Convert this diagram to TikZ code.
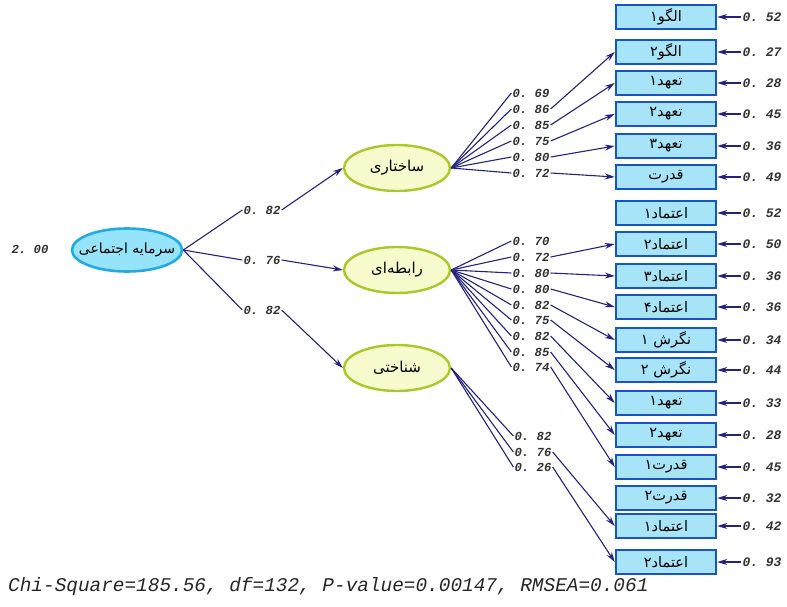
\documentclass[tikz,border=0pt]{standalone}
\usepackage{fontspec}
\setmonofont{Liberation Mono}
\newfontfamily\fa[Script=Arabic]{DejaVu Sans}
\TeXXeTstate=1
\usetikzlibrary{arrows.meta,shapes.geometric}
\definecolor{navy}{RGB}{35,35,125}
\definecolor{boxline}{RGB}{22,85,195}
\definecolor{boxfill}{RGB}{168,228,248}
\definecolor{mainfill}{RGB}{150,228,250}
\definecolor{mainline}{RGB}{35,170,228}
\definecolor{latfill}{RGB}{246,250,205}
\definecolor{latline}{RGB}{170,200,40}
\newcommand\fatext[1]{\beginR #1\endR}
\tikzset{
  indbox/.style={rectangle, draw=boxline, line width=2.5pt, fill=boxfill,
    minimum width=100pt, minimum height=24pt, inner sep=0pt,
    font=\fa\fontsize{14.5}{16}\selectfont},
  mainell/.style={ellipse, draw=mainline, line width=2.6pt, fill=mainfill,
    minimum width=110pt, minimum height=43pt, inner xsep=-20pt, inner ysep=0pt,
    font=\fa\fontsize{14}{16}\selectfont},
  latell/.style={ellipse, draw=latline, line width=2.4pt, fill=latfill,
    minimum width=106pt, minimum height=46pt, inner sep=0pt,
    font=\fa\fontsize{15}{17}\selectfont},
  num/.style={font=\ttfamily\itshape\bfseries\fontsize{12.3}{14}\selectfont, inner sep=1pt, text=black!80},
  errnum/.style={font=\ttfamily\itshape\bfseries\fontsize{13}{15}\selectfont, inner sep=1pt, text=black!80},
  conn/.style={draw=navy, line width=1.1pt},
  arr/.style={conn, -{Stealth[length=10pt,width=6pt]}}
}
\begin{document}
\begin{tikzpicture}[x=1pt,y=-1pt]
\fill[white] (0,0) rectangle (787,607);
\useasboundingbox (0,0) rectangle (787,607);

% indicator boxes
\node[indbox] (b1)  at (666,17)  {\fatext{الگو۱}};
\node[indbox] (b2)  at (666,52)  {\fatext{الگو۲}};
\node[indbox] (b3)  at (666,83)  {\fatext{تعهد۱}};
\node[indbox] (b4)  at (666,114) {\fatext{تعهد۲}};
\node[indbox] (b5)  at (666,146) {\fatext{تعهد۳}};
\node[indbox] (b6)  at (666,177) {\fatext{قدرت}};
\node[indbox] (b7)  at (666,213) {\fatext{اعتماد۱}};
\node[indbox] (b8)  at (666,244) {\fatext{اعتماد۲}};
\node[indbox] (b9)  at (666,276) {\fatext{اعتماد۳}};
\node[indbox] (b10) at (666,307) {\fatext{اعتماد۴}};
\node[indbox] (b11) at (666,340) {\fatext{نگرش ۱}};
\node[indbox] (b12) at (666,370) {\fatext{نگرش ۲}};
\node[indbox] (b13) at (666,403) {\fatext{تعهد۱}};
\node[indbox] (b14) at (666,435) {\fatext{تعهد۲}};
\node[indbox] (b15) at (666,467) {\fatext{قدرت۱}};
\node[indbox] (b16) at (666,498) {\fatext{قدرت۲}};
\node[indbox] (b17) at (666,526) {\fatext{اعتماد۱}};
\node[indbox] (b18) at (666,562) {\fatext{اعتماد۲}};

% error terms
\node[errnum] (e1)  at (762,17)  {0. 52};
\node[errnum] (e2)  at (762,52)  {0. 27};
\node[errnum] (e3)  at (762,83)  {0. 28};
\node[errnum] (e4)  at (762,114) {0. 45};
\node[errnum] (e5)  at (762,146) {0. 36};
\node[errnum] (e6)  at (762,177) {0. 49};
\node[errnum] (e7)  at (762,213) {0. 52};
\node[errnum] (e8)  at (762,244) {0. 50};
\node[errnum] (e9)  at (762,276) {0. 36};
\node[errnum] (e10) at (762,307) {0. 36};
\node[errnum] (e11) at (762,340) {0. 34};
\node[errnum] (e12) at (762,370) {0. 44};
\node[errnum] (e13) at (762,403) {0. 33};
\node[errnum] (e14) at (762,435) {0. 28};
\node[errnum] (e15) at (762,467) {0. 45};
\node[errnum] (e16) at (762,498) {0. 32};
\node[errnum] (e17) at (762,526) {0. 42};
\node[errnum] (e18) at (762,562) {0. 93};
\foreach \i in {1,...,18} { \draw[arr] (e\i) -- (b\i); }

% latent variables
\node[mainell] (m) at (127,250) {\fatext{سرمایه اجتماعی}};
\node[num] (mv) at (30,249) {2. 00};
\node[latell] (s) at (397,168) {\fatext{ساختاری}};
\node[latell] (r) at (397,270) {\fatext{رابطه‌ای}};
\node[latell] (k) at (397,368) {\fatext{شناختی}};

% second-order loadings
\node[num] (p1) at (262,210) {0. 82};
\node[num] (p2) at (262,260) {0. 76};
\node[num] (p3) at (262,310) {0. 82};
\draw[conn] (m.east) -- (p1.west);
\draw[conn] (m.east) -- (p2.west);
\draw[conn] (m.east) -- (p3.west);
\draw[arr] (p1.east) -- (s.west);
\draw[arr] (p2.east) -- (r.west);
\draw[arr] (p3.east) -- (k.west);

% loadings of s
\node[num] (s1) at (531,93)  {0. 69};
\node[num] (s2) at (531,109) {0. 86};
\node[num] (s3) at (531,125) {0. 85};
\node[num] (s4) at (531,141) {0. 75};
\node[num] (s5) at (531,157) {0. 80};
\node[num] (s6) at (531,173) {0. 72};
\foreach \i in {1,...,6} { \draw[conn] (s.east) -- (s\i.west); }
\draw[arr] (s2.east) -- (b2.west);
\draw[arr] (s3.east) -- (b3.west);
\draw[arr] (s4.east) -- (b4.west);
\draw[arr] (s5.east) -- (b5.west);
\draw[arr] (s6.east) -- (b6.west);

% loadings of r
\node[num] (r1) at (531,241) {0. 70};
\node[num] (r2) at (531,257) {0. 72};
\node[num] (r3) at (531,273) {0. 80};
\node[num] (r4) at (531,289) {0. 80};
\node[num] (r5) at (531,305) {0. 82};
\node[num] (r6) at (531,320) {0. 75};
\node[num] (r7) at (531,336) {0. 82};
\node[num] (r8) at (531,352) {0. 85};
\node[num] (r9) at (531,367) {0. 74};
\foreach \i in {1,...,9} { \draw[conn] (r.east) -- (r\i.west); }
\draw[arr] (r2.east) -- (b8.west);
\draw[arr] (r3.east) -- (b9.west);
\draw[arr] (r4.east) -- (b10.west);
\draw[arr] (r5.east) -- (b11.west);
\draw[arr] (r6.east) -- (b12.west);
\draw[arr] (r7.east) -- (b13.west);
\draw[arr] (r8.east) -- (b14.west);
\draw[arr] (r9.east) -- (b15.west);

% loadings of k
\node[num] (k1) at (533,436) {0. 82};
\node[num] (k2) at (533,452) {0. 76};
\node[num] (k3) at (533,467) {0. 26};
\foreach \i in {1,...,3} { \draw[conn] (k.east) -- (k\i.west); }
\draw[arr] (k2.east) -- (b17.west);
\draw[arr] (k3.east) -- (b18.west);

% fit statistics
\node[anchor=west, inner sep=0pt, font=\ttfamily\itshape\fontsize{19.4}{22}\selectfont, text=black!85]
  (fit) at (8,586) {Chi-Square=185.56, df=132, P-value=0.00147, RMSEA=0.061};
\end{tikzpicture}
\end{document}
